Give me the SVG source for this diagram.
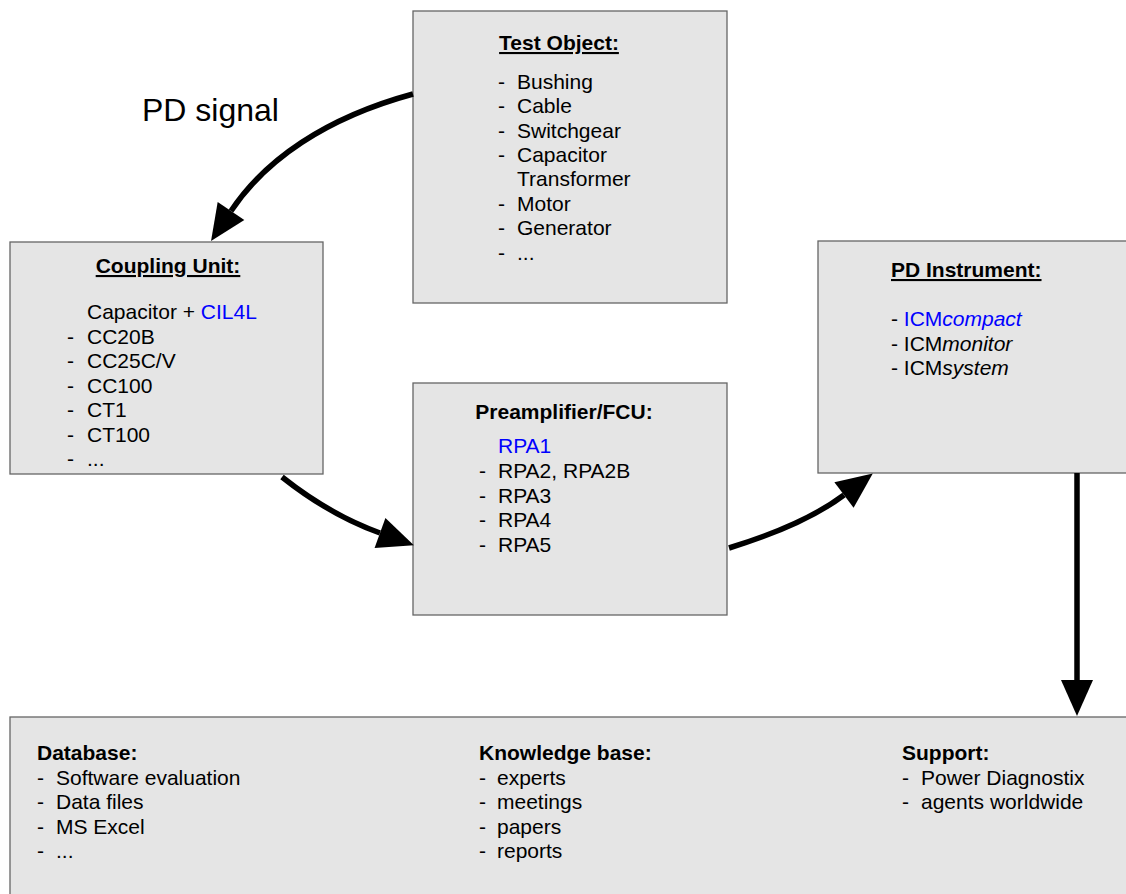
<svg xmlns="http://www.w3.org/2000/svg" width="1126" height="894" viewBox="0 0 1126 894">
<style>
  .box { fill: #e5e5e5; stroke: #666; stroke-width: 1.3; }
  text { font-family: "Liberation Sans", Arial, sans-serif; font-size: 21px; fill: #000; }
  .b { font-weight: bold; }
  .u { text-decoration: underline; }
  .blue { fill: #0000ff; }
  .i { font-style: italic; }
  .conn { fill: none; stroke: #000; stroke-width: 5.5; }
</style>
<defs>
  <marker id="ah" markerUnits="userSpaceOnUse" markerWidth="38" markerHeight="32" refX="0" refY="16" orient="auto" overflow="visible">
    <path d="M0,0 L36,16 L0,32 z" fill="#000"/>
  </marker>
</defs>
<rect width="1126" height="894" fill="#fff"/>

<g id="test-object">
  <rect class="box" x="413" y="11" width="314" height="292"/>
  <text class="b u" x="559" y="50" text-anchor="middle">Test Object:</text>
  <text x="498" y="89">-</text><text x="517" y="89">Bushing</text>
  <text x="498" y="113">-</text><text x="517" y="113">Cable</text>
  <text x="498" y="138">-</text><text x="517" y="138">Switchgear</text>
  <text x="498" y="162">-</text><text x="517" y="162">Capacitor</text>
  <text x="517" y="186">Transformer</text>
  <text x="498" y="211">-</text><text x="517" y="211">Motor</text>
  <text x="498" y="235">-</text><text x="517" y="235">Generator</text>
  <text x="498" y="260">-</text><text x="517" y="260">...</text>
</g>

<g id="coupling-unit">
  <rect class="box" x="10" y="242" width="313" height="232"/>
  <text class="b u" x="168" y="273" text-anchor="middle">Coupling Unit:</text>
  <text x="87" y="319">Capacitor + <tspan class="blue">CIL4L</tspan></text>
  <text x="67" y="344">-</text><text x="87" y="344">CC20B</text>
  <text x="67" y="368">-</text><text x="87" y="368">CC25C/V</text>
  <text x="67" y="393">-</text><text x="87" y="393">CC100</text>
  <text x="67" y="417">-</text><text x="87" y="417">CT1</text>
  <text x="67" y="442">-</text><text x="87" y="442">CT100</text>
  <text x="67" y="466">-</text><text x="87" y="466">...</text>
</g>

<g id="preamplifier">
  <rect class="box" x="413" y="383" width="314" height="232"/>
  <text class="b" x="564" y="419" text-anchor="middle">Preamplifier/FCU:</text>
  <text class="blue" x="498" y="453">RPA1</text>
  <text x="479" y="478">-</text><text x="498" y="478">RPA2, RPA2B</text>
  <text x="479" y="503">-</text><text x="498" y="503">RPA3</text>
  <text x="479" y="527">-</text><text x="498" y="527">RPA4</text>
  <text x="479" y="552">-</text><text x="498" y="552">RPA5</text>
</g>

<g id="pd-instrument">
  <rect class="box" x="818" y="241" width="312" height="232"/>
  <text class="b u" x="891" y="277">PD Instrument:</text>
  <text x="891" y="326">- <tspan class="blue">ICM<tspan class="i">compact</tspan></tspan></text>
  <text x="891" y="351">- ICM<tspan class="i">monitor</tspan></text>
  <text x="891" y="375">- ICM<tspan class="i">system</tspan></text>
</g>

<g id="resources">
  <rect class="box" x="10" y="717" width="1120" height="182"/>
  <text class="b" x="37" y="760">Database:</text>
  <text x="37" y="785">-</text><text x="56" y="785">Software evaluation</text>
  <text x="37" y="809">-</text><text x="56" y="809">Data files</text>
  <text x="37" y="834">-</text><text x="56" y="834">MS Excel</text>
  <text x="37" y="858">-</text><text x="56" y="858">...</text>
  <text class="b" x="479" y="760">Knowledge base:</text>
  <text x="479" y="785">-</text><text x="497" y="785">experts</text>
  <text x="479" y="809">-</text><text x="497" y="809">meetings</text>
  <text x="479" y="834">-</text><text x="497" y="834">papers</text>
  <text x="479" y="858">-</text><text x="497" y="858">reports</text>
  <text class="b" x="902" y="760">Support:</text>
  <text x="902" y="785">-</text><text x="921" y="785">Power Diagnostix</text>
  <text x="902" y="809">-</text><text x="921" y="809">agents worldwide</text>
</g>

<g id="connectors">
  <path class="conn" d="M413,94 C325,118 265,160 231,211" marker-end="url(#ah)"/>
  <path class="conn" d="M282,477 Q330,515 380,533" marker-end="url(#ah)"/>
  <path class="conn" d="M729,548 Q804,525 844,495" marker-end="url(#ah)"/>
  <path class="conn" d="M1077,473 L1077,680" marker-end="url(#ah)"/>
  <text x="142" y="121" style="font-size:32px">PD signal</text>
</g>
</svg>
